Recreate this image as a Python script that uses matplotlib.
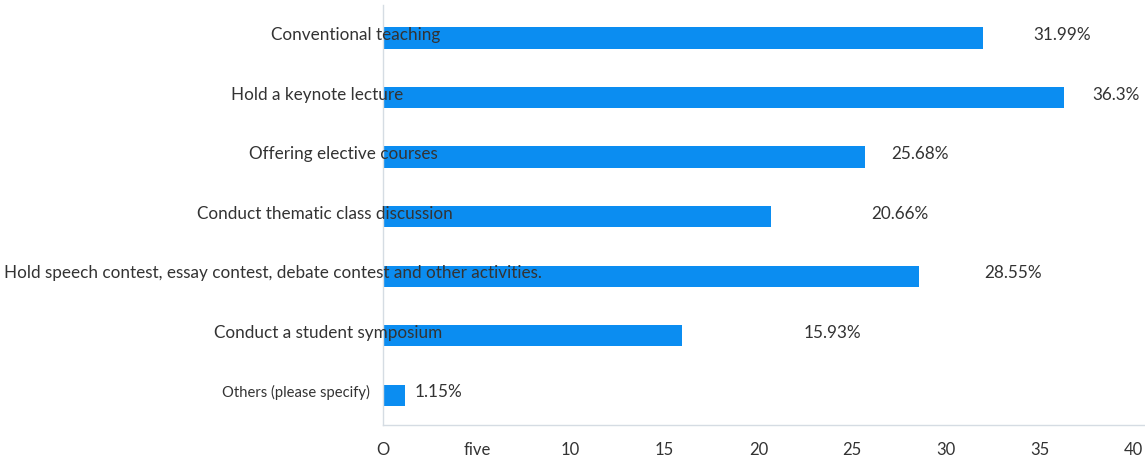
import matplotlib
matplotlib.use("Agg")
import matplotlib.pyplot as plt

# data
categories = [
    "Conventional teaching",
    "Hold a keynote lecture",
    "Offering elective courses",
    "Conduct thematic class discussion",
    "Hold speech contest, essay contest, debate contest and other activities.",
    "Conduct a student symposium",
    "Others (please specify)",
]
values = [31.99, 36.3, 25.68, 20.66, 28.55, 15.93, 1.15]
value_labels = ["31.99%", "36.3%", "25.68%", "20.66%", "28.55%", "15.93%", "1.15%"]
tick_values = [0, 5, 10, 15, 20, 25, 30, 35, 40]
tick_labels = ["O", "five", "10", "15", "20", "25", "30", "35", "40"]

# layout tweaks (pixels): where each category label ends relative to the axis,
# and the gap between bar end and its value label
label_end_px = [57, 20, 55, 70, 159, 59, -13]
value_gap_px = [50, 28, 26, 100, 65, 122, 10]
label_sizes = [12.3, 12.3, 12.3, 12.3, 12.3, 12.3, 10.6]

BAR_COLOR = "#0B8DF1"
TEXT_COLOR = "#333333"
SPINE_COLOR = "#D5DCE3"
PX = 72 / 100  # points per pixel at dpi 100

plt.rcParams["font.family"] = ["Lato", "DejaVu Sans"]

fig = plt.figure(figsize=(11.45, 4.61), dpi=100)
ax = fig.add_axes([0.3345, 0.078, 0.6655, 0.911])

ypos = list(range(len(categories)))
ax.barh(ypos, values, height=0.36, color=BAR_COLOR)

for i, (name, v, lab) in enumerate(zip(categories, values, value_labels)):
    ax.annotate(name, xy=(0, i), xytext=(label_end_px[i] * PX, 3 * PX),
                textcoords="offset points", ha="right", va="center",
                fontsize=label_sizes[i], color=TEXT_COLOR)
    ax.annotate(lab, xy=(v, i), xytext=(value_gap_px[i] * PX, 3 * PX),
                textcoords="offset points", ha="left", va="center",
                fontsize=12.3, color=TEXT_COLOR)

ax.set_xlim(0, 40.6)
ax.set_ylim(6.5, -0.555)
ax.set_xticks(tick_values)
ax.set_xticklabels(tick_labels, fontsize=12, color=TEXT_COLOR)
ax.set_yticks([])
ax.tick_params(axis="x", length=0, pad=12)

for side in ("top", "right"):
    ax.spines[side].set_visible(False)
for side in ("left", "bottom"):
    ax.spines[side].set_color(SPINE_COLOR)
    ax.spines[side].set_linewidth(1)

fig.savefig("out.png", dpi=100)
